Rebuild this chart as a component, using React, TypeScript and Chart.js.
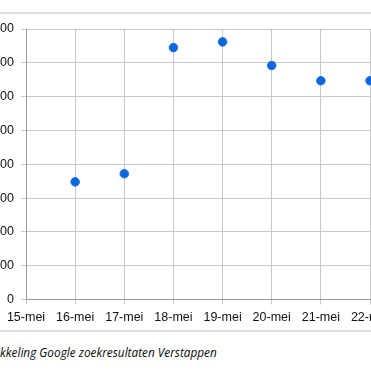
import React, { useEffect, useRef } from "react";
import { Chart, registerables } from "chart.js";

Chart.register(...registerables);

const categories = ["15-mei", "16-mei", "17-mei", "18-mei", "19-mei", "20-mei", "21-mei", "22-mei"];
const values: (number | null)[] = [null, 348, 372, 745, 762, 692, 647, 647];
const yMin = 0;
const yMax = 800;
const yStep = 100;
const captionHidden = "Ontwi";
const captionVisible = "kkeling Google zoekresultaten Verstappen";

export default function App() {
  const ref = useRef<HTMLCanvasElement | null>(null);
  const capRef = useRef<HTMLDivElement | null>(null);
  const preRef = useRef<HTMLSpanElement | null>(null);

  useEffect(() => {
    if (capRef.current && preRef.current) {
      capRef.current.style.left = -preRef.current.getBoundingClientRect().width + "px";
    }
    if (!ref.current) return;
    const chart = new Chart(ref.current, {
      type: "line",
      data: {
        labels: categories,
        datasets: [
          {
            data: values,
            showLine: false,
            pointRadius: 4.3,
            pointBackgroundColor: "#0a68de",
            pointBorderColor: "#2a74d0",
            pointBorderWidth: 1,
            pointHoverRadius: 4.3,
          },
        ],
      },
      options: {
        responsive: false,
        animation: false,
        events: [],
        layout: { padding: { top: 29, right: 30, bottom: 0, left: 0 } },
        plugins: { legend: { display: false }, tooltip: { enabled: false }, title: { display: false } },
        scales: {
          x: {
            type: "category",
            offset: false,
            grid: { color: "#c8c8c8", lineWidth: 1, tickLength: 5, offset: false },
            border: { color: "#999999", width: 1 },
            ticks: {
              color: "#111111",
              padding: 6,
              maxRotation: 0,
              autoSkip: false,
              font: { family: "'Liberation Sans', Arial, sans-serif", size: 12.5 },
            },
            afterFit: (s: any) => {
              s.height = 30.5;
            },
          },
          y: {
            min: yMin,
            max: yMax,
            grid: { color: "#c8c8c8", lineWidth: 1, tickLength: 5 },
            border: { color: "#999999", width: 1 },
            ticks: {
              stepSize: yStep,
              color: "#111111",
              padding: 7,
              font: { family: "'Liberation Sans', Arial, sans-serif", size: 12.5 },
            },
            afterFit: (s: any) => {
              s.width = 56;
            },
          },
        },
      },
    });
    return () => chart.destroy();
  }, []);

  return (
    <div
      style={{
        position: "absolute",
        left: 0,
        top: 0,
        width: 371,
        height: 371,
        overflow: "hidden",
        background: "#ffffff",
      }}
    >
      <div style={{ position: "absolute", left: 0, top: 12, width: 371, height: 2, background: "#dedede" }} />
      <canvas
        ref={ref}
        width={430}
        height={330}
        style={{ position: "absolute", left: -30, top: 0, width: 430, height: 330 }}
      />
      <div style={{ position: "absolute", left: 0, top: 330, width: 371, height: 2, background: "#dedede" }} />
      <div
        ref={capRef}
        style={{
          position: "absolute",
          left: -30,
          top: 344,
          whiteSpace: "nowrap",
          fontFamily: "'Open Sans', 'Noto Sans', sans-serif",
          fontStyle: "italic",
          fontSize: 11.8,
          lineHeight: "17px",
          color: "#0a0a0a",
        }}
      >
        <span ref={preRef}>{captionHidden}</span>
        {captionVisible}
      </div>
    </div>
  );
}
